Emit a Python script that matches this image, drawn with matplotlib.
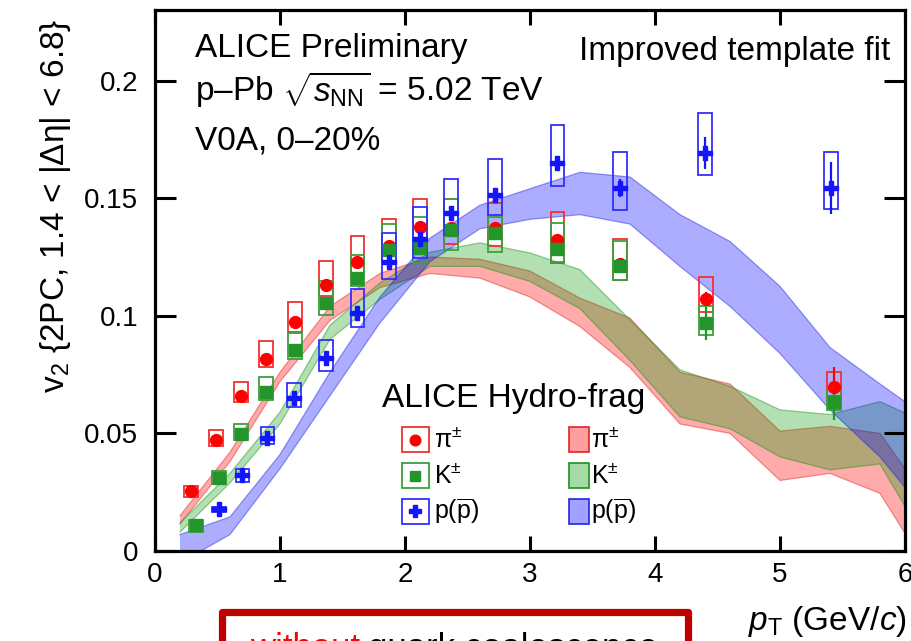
import matplotlib
matplotlib.use('Agg')
import matplotlib.pyplot as plt
from matplotlib.patches import Rectangle
from matplotlib.lines import Line2D

plt.rcParams['font.family'] = ['Liberation Sans', 'DejaVu Sans']
plt.rcParams['mathtext.fontset'] = 'custom'
plt.rcParams['mathtext.rm'] = 'Liberation Sans'
plt.rcParams['mathtext.it'] = 'Liberation Sans:italic'
plt.rcParams['mathtext.bf'] = 'Liberation Sans:bold'

# ---------------- data ----------------
pt_pi = [0.29, 0.49, 0.69, 0.89, 1.12, 1.37, 1.62, 1.87, 2.12, 2.37, 2.72, 3.22, 3.72, 4.41, 5.43]
v2_pi = [0.0257, 0.0472, 0.0660, 0.0818, 0.0973, 0.1129, 0.1228, 0.1298, 0.1376, 0.1375, 0.1373, 0.1323, 0.1220, 0.1071, 0.0699]
sys_pi_up = [0.0019, 0.0043, 0.0060, 0.0073, 0.0085, 0.0102, 0.0110, 0.0114, 0.0121, 0.0123, 0.0107, 0.0117, 0.0106, 0.0096, 0.0060]
sys_pi_dn = [0.0026, 0.0025, 0.0027, 0.0034, 0.0042, 0.0047, 0.0048, 0.0042, 0.0060, 0.0069, 0.0075, 0.0098, 0.0067, 0.0053, 0.0039]
stat_pi = [0.0003, 0.0003, 0.0003, 0.0003, 0.0004, 0.0004, 0.0005, 0.0005, 0.0006, 0.0007, 0.0008, 0.0010, 0.0015, 0.0030, 0.0085]

pt_K = [0.33, 0.51, 0.69, 0.89, 1.12, 1.37, 1.62, 1.87, 2.12, 2.37, 2.72, 3.22, 3.72, 4.41, 5.43]
v2_K = [0.0111, 0.0312, 0.0498, 0.0674, 0.0855, 0.1054, 0.1160, 0.1280, 0.1290, 0.1366, 0.1352, 0.1284, 0.1210, 0.0969, 0.0635]
sys_K_up = [0.0021, 0.0026, 0.0042, 0.0065, 0.0071, 0.0092, 0.0100, 0.0110, 0.0130, 0.0131, 0.0068, 0.0110, 0.0110, 0.0074, 0.0050]
sys_K_dn = [0.0029, 0.0027, 0.0028, 0.0034, 0.0038, 0.0050, 0.0035, 0.0056, 0.0066, 0.0086, 0.0082, 0.0057, 0.0057, 0.0050, 0.0035]
stat_K = [0.0003, 0.0003, 0.0003, 0.0004, 0.0004, 0.0005, 0.0005, 0.0006, 0.0007, 0.0008, 0.0010, 0.0012, 0.0020, 0.0070, 0.0078]

pt_p = [0.51, 0.70, 0.90, 1.115, 1.37, 1.62, 1.875, 2.12, 2.37, 2.72, 3.22, 3.72, 4.40, 5.41]
v2_p = [0.0177, 0.0323, 0.0482, 0.0650, 0.0820, 0.1011, 0.1228, 0.1326, 0.1437, 0.1512, 0.1650, 0.1543, 0.1692, 0.1543]
sys_p_up = [0.0010, 0.0026, 0.0044, 0.0066, 0.0078, 0.0103, 0.0124, 0.0137, 0.0143, 0.0155, 0.0163, 0.0152, 0.0168, 0.0154]
sys_p_dn = [0.0010, 0.0028, 0.0027, 0.0036, 0.0054, 0.0059, 0.0072, 0.0081, 0.0092, 0.0082, 0.0097, 0.0092, 0.0095, 0.0089]
stat_p = [0.0004, 0.0004, 0.0005, 0.0005, 0.0006, 0.0007, 0.0008, 0.0009, 0.0011, 0.0020, 0.0030, 0.0040, 0.0070, 0.0110]

pt_band = [0.2, 0.6, 1.0, 1.4, 1.8, 2.2, 2.6, 3.0, 3.4, 3.8, 4.2, 4.6, 5.0, 5.4, 5.8, 6.0]
pi_lo = [0.0115, 0.038, 0.072, 0.098, 0.112, 0.118, 0.116, 0.108, 0.0954, 0.078, 0.054, 0.050, 0.030, 0.033, 0.0245, 0.0075]
pi_hi = [0.0150, 0.042, 0.076, 0.104, 0.118, 0.125, 0.124, 0.119, 0.1075, 0.099, 0.076, 0.071, 0.051, 0.053, 0.050, 0.035]
K_lo = [0.008, 0.029, 0.054, 0.090, 0.107, 0.121, 0.121, 0.1146, 0.103, 0.081, 0.057, 0.052, 0.040, 0.0345, 0.037, 0.019]
K_hi = [0.012, 0.033, 0.059, 0.096, 0.114, 0.127, 0.131, 0.1267, 0.1196, 0.0983, 0.077, 0.070, 0.060, 0.058, 0.0635, 0.0587]
p_lo = [-0.005, 0.007, 0.035, 0.066, 0.097, 0.123, 0.137, 0.141, 0.143, 0.139, 0.121, 0.104, 0.084, 0.060, 0.040, 0.027]
p_hi = [0.007, 0.0145, 0.041, 0.076, 0.108, 0.133, 0.147, 0.154, 0.161, 0.159, 0.143, 0.1316, 0.1125, 0.0865, 0.071, 0.0635]

x_ticks = [0, 1, 2, 3, 4, 5, 6]
y_ticks = [0, 0.05, 0.1, 0.15, 0.2]
y_ticklabels = ['0', '0.05', '0.1', '0.15', '0.2']

# ---------------- figure ----------------
W, H = 912, 641
fig = plt.figure(figsize=(W / 100, H / 100), dpi=100)


def fx(x):
    return x / W


def fy(y):
    return 1 - y / H


ax = fig.add_axes([fx(155), fy(551), 750 / W, 541 / H])

RED_M, GRN_M, BLU_M = '#ff0000', '#23952a', '#1414ff'
RED_B, GRN_B, BLU_B = '#f03030', '#3ca03c', '#3030ff'
bands = [
    (pi_lo, pi_hi, '#ff0000', 0.33, '#e02020'),
    (K_lo, K_hi, '#009900', 0.30, '#1a8f1a'),
    (p_lo, p_hi, '#0000ff', 0.32, '#2020e0'),
]
for z, (lo, hi, fc, a, ec) in enumerate(bands):
    ax.fill_between(pt_band, lo, hi, facecolor=fc, alpha=a, linewidth=0, zorder=1 + z * 0.1)
    ax.plot(pt_band, lo, color=ec, lw=0.9, alpha=0.45, zorder=1.05 + z * 0.1)
    ax.plot(pt_band, hi, color=ec, lw=0.9, alpha=0.45, zorder=1.05 + z * 0.1)

BW = 0.055
series = [
    (pt_pi, v2_pi, sys_pi_up, sys_pi_dn, stat_pi, RED_M, RED_B, 'o', 8.5),
    (pt_K, v2_K, sys_K_up, sys_K_dn, stat_K, GRN_M, GRN_B, 's', 8.0),
    (pt_p, v2_p, sys_p_up, sys_p_dn, stat_p, BLU_M, BLU_B, 'P', 10.0),
]
for pts, vals, up, dn, st, mc, bc, mk, ms in series:
    for x, v, u, d in zip(pts, vals, up, dn):
        ax.add_patch(Rectangle((x - BW, v - d), 2 * BW, u + d, fill=False,
                               edgecolor=bc, lw=1.3, zorder=3))
    ax.errorbar(pts, vals, yerr=st, fmt=mk, color=mc, ms=ms, mec=mc,
                elinewidth=1.6, capsize=0, zorder=4)

ax.set_xlim(0, 6)
ax.set_ylim(0, 0.23)
ax.set_xticks(x_ticks)
ax.set_xticklabels([str(t) for t in x_ticks])
ax.set_yticks(y_ticks)
ax.set_yticklabels(y_ticklabels)
ax.tick_params(axis='both', which='major', direction='in', top=True, right=True,
               width=2.2, labelsize=20, color='black')
ax.tick_params(axis='x', length=11, pad=8)
ax.tick_params(axis='y', length=15, pad=12)
for s in ax.spines.values():
    s.set_linewidth(2.3)

# ---------------- texts ----------------
fs = 24
fig.text(fx(195), fy(57), 'ALICE Preliminary', fontsize=fs, va='baseline')
fig.text(fx(195), fy(101), r'p–Pb $\sqrt{s_{\mathrm{NN}}}$ = 5.02 TeV', fontsize=fs, va='baseline')
fig.text(fx(195), fy(150), 'V0A, 0–20%', fontsize=fs, va='baseline')
fig.text(fx(890), fy(60), 'Improved template fit', fontsize=fs, ha='right', va='baseline')
fig.text(fx(56), fy(206), r'v$_2$ {2PC, 1.4 < |Δη| < 6.8}', fontsize=fs,
         rotation=90, ha='center', va='center')
fig.text(fx(907), fy(630), r'$p_{\mathrm{T}}$ (GeV/$c$)', fontsize=fs, ha='right', va='baseline')

# ---------------- legend ----------------
fig.text(fx(382), fy(407), 'ALICE Hydro-frag', fontsize=fs, va='baseline')
rows = [439.5, 475.5, 511.0]
labels = ['π$^{\\pm}$', 'K$^{\\pm}$', r'p($\overline{\mathrm{p}}$)']
for (pts, vals, up, dn, st, mc, bc, mk, ms), (lo, hi, fc, a, ec), yc, lab in zip(series, bands, rows, labels):
    fig.add_artist(Rectangle((fx(402), fy(yc + 12.5)), 27 / W, 25 / H, transform=fig.transFigure,
                             fill=False, edgecolor=bc, lw=1.3))
    fig.add_artist(Line2D([fx(415.5)], [fy(yc)], marker=mk, color=mc, ms=ms * 0.9,
                          linestyle='none', transform=fig.transFigure))
    fig.text(fx(434), fy(yc), lab, fontsize=18, va='center')
    fig.add_artist(Rectangle((fx(569), fy(yc + 12.5)), 20 / W, 25 / H, transform=fig.transFigure,
                             facecolor=fc, alpha=a + 0.05, edgecolor='none'))
    fig.add_artist(Rectangle((fx(569), fy(yc + 12.5)), 20 / W, 25 / H, transform=fig.transFigure,
                             fill=False, edgecolor=ec, lw=1.3, alpha=0.9))
    fig.text(fx(591), fy(yc), lab, fontsize=18, va='center')

# ---------------- bottom annotation box (cut by the lower edge, as in the reference) ----------------
box = Rectangle((fx(222.5), fy(720)), (688.5 - 222.5) / W, (720 - 611.5) / H,
                transform=fig.transFigure, fill=False, edgecolor='#c00000', lw=5.2)
box.set_joinstyle('round')
fig.add_artist(box)
t1 = fig.text(fx(250), fy(658), 'without', fontsize=25, color='#ff0000', va='baseline')
renderer = fig.canvas.get_renderer()
bb = t1.get_window_extent(renderer)
fig.text(bb.x1 / W + 8 / W, fy(658), 'quark coalescence', fontsize=25, color='black', va='baseline')

fig.savefig('out.png', dpi=100)
